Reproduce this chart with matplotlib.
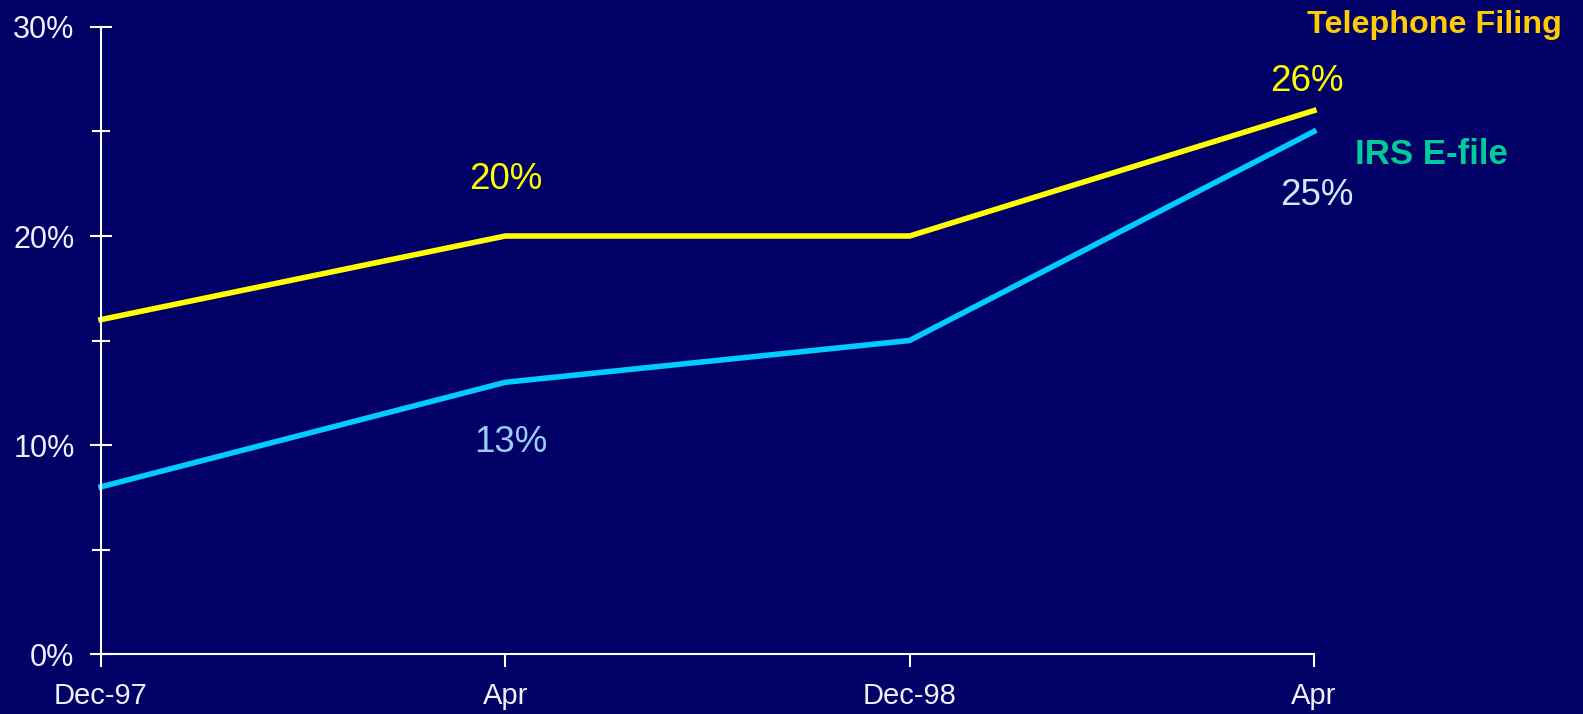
import matplotlib
matplotlib.use('Agg')
import matplotlib.pyplot as plt
from matplotlib.ticker import FixedLocator, PercentFormatter

# Data
periods = ['Dec-97', 'Apr', 'Dec-98', 'Apr']
telephone = [16, 20, 20, 26]
efile = [8, 13, 15, 25]
y_major = [0, 10, 20, 30]
y_minor = [5, 15, 25]

# (index, offset in points, colour) for the value labels
tel_labels = [(1, (0, 34), '#FFFF00'), (3, (-5, 14), '#FFFF00')]
efile_labels = [(1, (4, -50), '#99CCFF'), (3, (2, -53), '#CCECFF')]

BG = '#000066'
plt.rcParams['font.family'] = ['Liberation Sans', 'DejaVu Sans']

fig = plt.figure(figsize=(15.83, 7.14), dpi=100, facecolor=BG)
ax = fig.add_axes([0.0638, 0.0840, 0.7662, 0.8782])
ax.set_facecolor(BG)

x = list(range(len(periods)))
ax.plot(x, telephone, color='#FFFF00', lw=4, solid_joinstyle='miter', clip_on=False)
ax.plot(x, efile, color='#00CCFF', lw=4, solid_joinstyle='miter', clip_on=False)

for i, off, col in tel_labels:
    ax.annotate(f'{telephone[i]}%', (x[i], telephone[i]), xytext=off,
                textcoords='offset points', ha='center', va='baseline',
                fontsize=26.5, color=col)
for i, off, col in efile_labels:
    ax.annotate(f'{efile[i]}%', (x[i], efile[i]), xytext=off,
                textcoords='offset points', ha='center', va='baseline',
                fontsize=26.5, color=col)

# series names
ax.text(1.2045, 0.990, 'Telephone Filing', transform=ax.transAxes,
        ha='right', va='baseline', fontsize=23.3, fontweight='bold',
        color='#FFCC00', clip_on=False)
ax.text(1.0338, 0.7815, 'IRS E-file', transform=ax.transAxes,
        ha='left', va='baseline', fontsize=25, fontweight='bold',
        color='#00CC99', clip_on=False)

ax.set_xlim(0, 3)
ax.set_ylim(0, 30)
ax.set_xticks(x)
ax.set_xticklabels(periods)
ax.yaxis.set_major_locator(FixedLocator(y_major))
ax.yaxis.set_minor_locator(FixedLocator(y_minor))
ax.yaxis.set_major_formatter(PercentFormatter(decimals=0))

for side in ['top', 'right']:
    ax.spines[side].set_visible(False)
for side in ['left', 'bottom']:
    ax.spines[side].set_color('white')
    ax.spines[side].set_linewidth(1.5)

ax.tick_params(axis='x', direction='out', length=9.5, width=1.5, color='white',
               labelcolor='#F0F0FF', labelsize=21, pad=11)
ax.tick_params(axis='y', which='major', direction='inout', length=16, width=1.5,
               color='white', labelcolor='#F0F0FF', labelsize=22, pad=11)
ax.tick_params(axis='y', which='minor', direction='inout', length=13, width=1.5,
               color='white')

fig.savefig('out.png', dpi=100, facecolor=BG)
